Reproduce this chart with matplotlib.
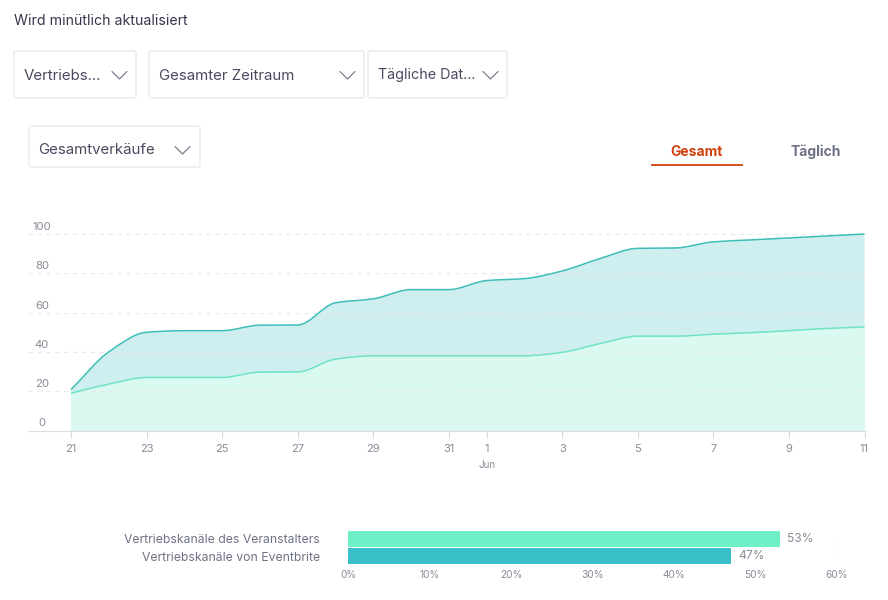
import matplotlib
matplotlib.use("Agg")
import numpy as np
import matplotlib.pyplot as plt
from matplotlib.patches import FancyBboxPatch, PathPatch
from matplotlib.path import Path

plt.rcParams['font.family'] = ['Inter', 'DejaVu Sans']

# one value per day, 21 May - 11 Jun
day_labels = ['21', '22', '23', '24', '25', '26', '27', '28', '29', '30', '31',
              '1', '2', '3', '4', '5', '6', '7', '8', '9', '10', '11']
shown_days = ['21', '23', '25', '27', '29', '31', '1', '3', '5', '7', '9', '11']
gesamt = [20.8, 40, 50, 50.8, 50.8, 53.6, 53.7, 65, 67, 71.7, 71.7,
          76.3, 77.3, 81.2, 87.5, 92.7, 92.9, 96, 97, 98, 99, 100]
veranstalter = [19, 23.6, 27, 27, 27, 29.7, 29.8, 36.3, 38, 38, 38,
                38, 38, 39.8, 44.2, 48, 48, 49, 49.8, 50.8, 51.9, 52.7]
y_ticks = [0, 20, 40, 60, 80, 100]

channels = ['Vertriebskanäle des Veranstalters', 'Vertriebskanäle von Eventbrite']
channel_share = [53, 47]
share_ticks = [0, 10, 20, 30, 40, 50, 60]

TEXT = '#39364f'
MUTED = '#6f7287'
AXIS = '#8c8a98'
W, H = 888, 600


def px_rect(l, t, r, b):
    return [l / W, 1 - b / H, (r - l) / W, (b - t) / H]


def smooth_path(x, y):
    # monotone cubic through the daily values, as bezier segments
    x = np.asarray(x, float)
    y = np.asarray(y, float)
    s = np.diff(y) / np.diff(x)
    m = np.zeros(len(y))
    m[0], m[-1] = s[0], s[-1]
    for i in range(1, len(y) - 1):
        if s[i - 1] * s[i] > 0:
            m[i] = 2 * s[i - 1] * s[i] / (s[i - 1] + s[i])
    verts = [(x[0], y[0])]
    codes = [Path.MOVETO]
    for i in range(len(x) - 1):
        h = (x[i + 1] - x[i]) / 3
        verts += [(x[i] + h, y[i] + m[i] * h),
                  (x[i + 1] - h, y[i + 1] - m[i + 1] * h),
                  (x[i + 1], y[i + 1])]
        codes += [Path.CURVE4] * 3
    return verts, codes


def draw_area(ax, x, y, line_color, fill_color, z):
    verts, codes = smooth_path(x, y)
    fill_verts = verts + [(x[-1], 0), (x[0], 0), (x[0], y[0])]
    fill_codes = codes + [Path.LINETO, Path.LINETO, Path.LINETO]
    ax.add_patch(PathPatch(Path(fill_verts, fill_codes), fc=fill_color, ec='none', zorder=z))
    ax.add_patch(PathPatch(Path(verts, codes), fc='none', ec=line_color, lw=1.1, zorder=z + 5))


fig = plt.figure(figsize=(W / 100, H / 100), dpi=100, facecolor='white')

# page furniture, in pixels
ui = fig.add_axes([0, 0, 1, 1], zorder=0)
ui.set_xlim(0, W)
ui.set_ylim(H, 0)
ui.axis('off')

ui.text(14, 21, 'Wird minütlich aktualisiert', fontsize=10.2, color=TEXT, va='center')

dropdowns = [
    (14, 51, 136, 98, 'Vertriebs...', 24, 112, 75.5, 10.8),
    (149, 51, 364, 98, 'Gesamter Zeitraum', 159, 340, 75.5, 10.8),
    (368, 51, 507, 98, 'Tägliche Dat...', 378, 483, 75.5, 10.3),
    (29, 126, 200, 167, 'Gesamtverkäufe', 38.5, 175, 150.5, 10.8),
]
for l, t, r, b, label, tx, cx, ty, size in dropdowns:
    ui.add_patch(FancyBboxPatch((l, t), r - l, b - t, boxstyle='round,pad=0,rounding_size=2',
                                fc='white', ec='#e8e8ec', lw=0.9))
    ui.text(tx, ty, label, fontsize=size, color='#4b4960', va='center')
    ui.plot([cx, cx + 7.5, cx + 15], [ty - 4, ty + 3.5, ty - 4], color=MUTED, lw=0.8, solid_capstyle='round')

ui.text(696.5, 152, 'Gesamt', fontsize=10, fontweight='bold', color='#d1410c', ha='center', va='center')
ui.plot([652, 742], [165, 165], color='#d1410c', lw=1.3)
ui.text(815.5, 152, 'Täglich', fontsize=10, fontweight='bold', color=MUTED, ha='center', va='center')

# area chart
ax = fig.add_axes(px_rect(28, 220, 864.5, 430.5), zorder=1)
ax.patch.set_alpha(0)
x = np.arange(len(gesamt))
ax.set_xlim(-43 / 37.8, x[-1])
ax.set_ylim(0, 210.5 / 1.965)

draw_area(ax, x, gesamt, '#3dbfb8', '#cfeef0', 1)
draw_area(ax, x, veranstalter, '#6fe3c4', '#daf9f1', 2)

for v in y_ticks[1:]:
    ax.axhline(v, color='#e9e9ed', lw=0.8, ls=(0, (4, 4)), zorder=5)
for v in y_ticks:
    ax.annotate(str(v), (-29 / 37.8, v), xytext=(0, 7), textcoords='offset pixels',
                fontsize=8.2, color=AXIS, ha='center', va='center')

for s in ['top', 'left', 'right']:
    ax.spines[s].set_visible(False)
ax.spines['bottom'].set_color('#dcdce2')
ax.set_yticks([])
# 21-31 May by two, then 1-11 Jun by two
tick_idx = [i for i, d in enumerate(day_labels) if d in shown_days]
ax.set_xticks(tick_idx, [day_labels[i] for i in tick_idx])
ax.tick_params(axis='x', length=5, width=0.8, color='#d8d8de', labelsize=8, labelcolor=AXIS, pad=5)
ax.annotate('Jun', (day_labels.index('1'), 0), xytext=(0, -35), textcoords='offset pixels',
            fontsize=7, color=AXIS, ha='center', va='center', annotation_clip=False)

# share bars
bar_ax = fig.add_axes(px_rect(348, 528, 837, 567), zorder=1)
bar_ax.patch.set_alpha(0)
bar_ax.set_xlim(0, 60)
bar_ax.set_ylim(1.62, -0.62)
bars = bar_ax.barh([0, 1], channel_share, height=0.9, color=['#6df0c8', '#38bfc7'], zorder=2)
for rect, v in zip(bars, channel_share):
    bar_ax.annotate(f'{v}%', (v, rect.get_y() + rect.get_height() / 2), xytext=(7, 0),
                    textcoords='offset pixels', fontsize=8.6, color=AXIS, va='center')
bar_ax.axvline(share_ticks[-1], color='#e6e6ea', lw=0.8, ls=(0, (4, 4)), zorder=1)
for s in bar_ax.spines.values():
    s.set_visible(False)
bar_ax.set_yticks([0, 1], channels)
bar_ax.set_xticks(share_ticks, [f'{v}%' for v in share_ticks])
bar_ax.tick_params(axis='y', length=0, pad=20, labelsize=8.8, labelcolor=MUTED)
bar_ax.tick_params(axis='x', length=0, pad=2, labelsize=7.3, labelcolor=AXIS)

fig.savefig('out.png', dpi=100)
